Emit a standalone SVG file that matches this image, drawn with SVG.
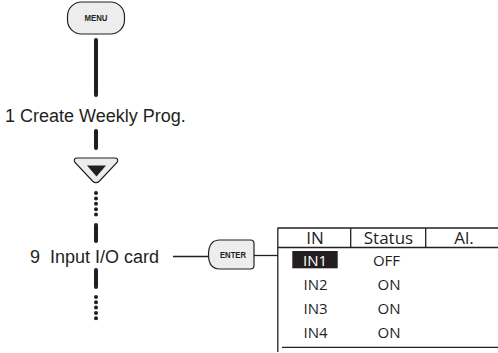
<svg xmlns="http://www.w3.org/2000/svg" width="498" height="353" viewBox="0 0 498 353">
<style>
.lbl{font-family:"Liberation Sans",Arial,sans-serif;font-size:18px;fill:#231f20}
.btn{fill:#ededed;stroke:#231f20;stroke-width:1.2}
.btxt{font-family:"Liberation Sans",Arial,sans-serif;font-weight:bold;fill:#231f20;text-anchor:middle}
.seg{stroke:#231f20;stroke-width:4;stroke-linecap:round;fill:none}
.thin{stroke:#231f20;stroke-width:1.3;fill:none}
.dot{fill:#231f20}
.th{font-family:"Open Sans","Noto Sans",sans-serif;font-size:17px;fill:#231f20;text-anchor:middle}
.td{font-family:"Open Sans","Noto Sans",sans-serif;font-size:15px;fill:#231f20;text-anchor:middle}
</style>
<rect width="498" height="353" fill="#ffffff"/>
<g id="connectors">
<line class="seg" x1="96" y1="40" x2="96" y2="95"/>
<line class="seg" x1="96" y1="131" x2="96" y2="148"/>
<g class="dot">
<circle cx="96" cy="193" r="2"/><circle cx="96" cy="198.4" r="2"/><circle cx="96" cy="203.8" r="2"/><circle cx="96" cy="209.2" r="2"/><circle cx="96" cy="214.6" r="2"/>
</g>
<line class="seg" x1="96" y1="225" x2="96" y2="241"/>
<line class="seg" x1="96" y1="270" x2="96" y2="287"/>
<g class="dot">
<circle cx="96" cy="297" r="2"/><circle cx="96" cy="302.3" r="2"/><circle cx="96" cy="307.6" r="2"/><circle cx="96" cy="312.9" r="2"/><circle cx="96" cy="318.2" r="2"/>
</g>
<line class="thin" x1="173" y1="256.5" x2="208" y2="256.5"/>
<line class="thin" x1="254" y1="255.5" x2="278" y2="255.5"/>
</g>
<g id="menu">
<rect class="btn" x="67.5" y="2" width="57" height="32" rx="14" ry="14"/>
<text class="btxt" x="96" y="21" font-size="9.5" textLength="23" lengthAdjust="spacingAndGlyphs">MENU</text>
</g>
<g id="step1">
<text class="lbl" x="5" y="122">1 Create Weekly Prog.</text>
</g>
<g id="down">
<path class="btn" d="M78,158 L114,158 Q119.5,158 117,162.5 L99.5,181 Q96,184.5 92.5,181 L75,162.5 Q72.5,158 78,158 Z"/>
<path d="M87,165.5 L106,165.5 L96.5,176.5 Z" fill="#231f20"/>
</g>
<g id="step9">
<text class="lbl" x="30" y="263" xml:space="preserve">9  Input I/O card</text>
</g>
<g id="enter">
<path class="btn" d="M220,240 L250.5,240 Q254,240 254,243.5 L254,265.5 Q254,269 250.5,269 L220,269 Q208.5,269 208.5,254.5 Q208.5,240 220,240 Z"/>
<text class="btxt" x="233" y="258" font-size="8.5" textLength="26" lengthAdjust="spacingAndGlyphs">ENTER</text>
</g>
<g id="table">
<line class="thin" x1="278" y1="228" x2="498" y2="228"/>
<line class="thin" x1="278" y1="247.5" x2="498" y2="247.5"/>
<line class="thin" x1="350.7" y1="228" x2="350.7" y2="247.5"/>
<line class="thin" x1="425.7" y1="228" x2="425.7" y2="247.5"/>
<line class="thin" x1="277.8" y1="227.4" x2="277.8" y2="352"/>
<line class="thin" x1="282" y1="347.3" x2="498" y2="347.3"/>
<text class="th" x="315" y="244">IN</text>
<text class="th" x="388.5" y="244">Status</text>
<text class="th" x="464" y="244">Al.</text>
<rect x="292.3" y="251" width="45.4" height="17.3" fill="#231f20"/>
<text class="td" x="315" y="266" style="fill:#ffffff">IN1</text>
<text class="td" x="386.5" y="266">OFF</text>
<text class="td" x="315.5" y="290">IN2</text>
<text class="td" x="389" y="290">ON</text>
<text class="td" x="315.5" y="314">IN3</text>
<text class="td" x="389" y="314">ON</text>
<text class="td" x="315.5" y="338">IN4</text>
<text class="td" x="389" y="338">ON</text>
</g>
</svg>
